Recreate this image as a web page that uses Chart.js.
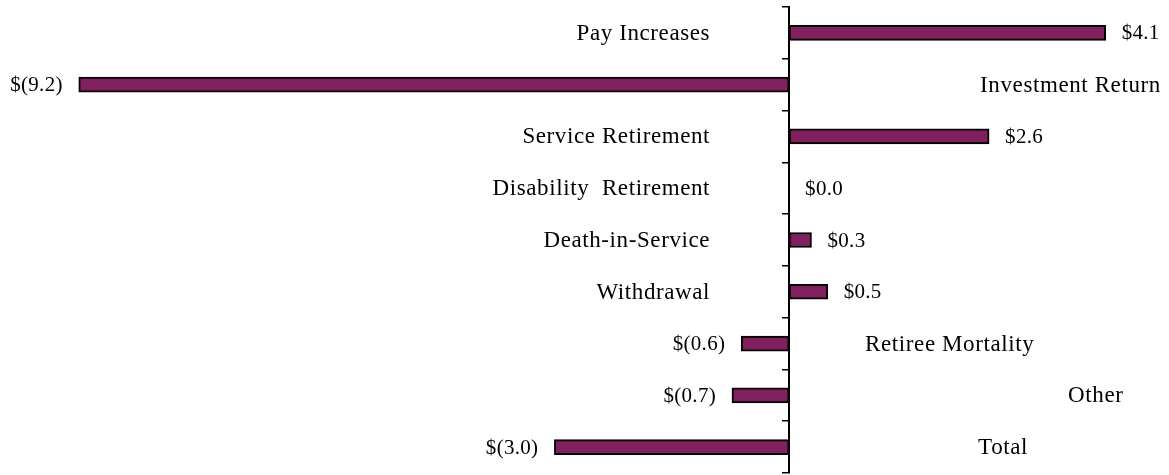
<!DOCTYPE html>
<html>
<head>
<meta charset="utf-8">
<script src="https://cdn.jsdelivr.net/npm/chart.js@4.4.1/dist/chart.umd.min.js"></script>
<style>
  html, body { margin: 0; padding: 0; background: #fff; }
  #wrap { width: 1169px; height: 475px; }
</style>
</head>
<body>
<div id="wrap"><canvas id="gainLoss"></canvas></div>
<script>
  // Sources of actuarial gain / (loss), $ millions
  const categories = [
    'Pay Increases', 'Investment Return', 'Service Retirement',
    'Disability  Retirement', 'Death-in-Service', 'Withdrawal',
    'Retiree Mortality', 'Other', 'Total'
  ];
  const amounts = [4.1, -9.2, 2.59, 0.0, 0.29, 0.5, -0.62, -0.74, -3.04];

  // where the category name sits for the negative bars (px right of the zero line)
  const negLabelOffset = { 'Investment Return': 191, 'Retiree Mortality': 76, 'Other': 279, 'Total': 189 };

  function money(v) {
    const s = Math.abs(v).toFixed(1);
    return v < 0 ? '$(' + s + ')' : '$' + s;
  }

  const barLabels = {
    id: 'barLabels',
    afterDatasetsDraw(chart) {
      const ctx = chart.ctx;
      const zero = chart.scales.x.getPixelForValue(0);
      const meta = chart.getDatasetMeta(0);
      ctx.save();
      ctx.fillStyle = '#000';
      ctx.textBaseline = 'middle';
      meta.data.forEach((bar, i) => {
        const v = amounts[i];
        const y = bar.y + 1;
        // value label
        ctx.letterSpacing = '0.3px';
        ctx.font = '21px "Liberation Serif", "Times New Roman", serif';
        if (v >= 0) {
          ctx.textAlign = 'left';
          ctx.fillText(money(v), bar.x + 16, y);
        } else {
          ctx.textAlign = 'right';
          ctx.fillText(money(v), bar.x - 16, y);
        }
        // category label on the other side of the axis
        ctx.letterSpacing = '0.6px';
        ctx.font = '23px "Liberation Serif", "Times New Roman", serif';
        if (v >= 0) {
          ctx.textAlign = 'right';
          ctx.fillText(categories[i], zero - 79, y);
        } else {
          ctx.textAlign = 'left';
          ctx.fillText(categories[i], zero + negLabelOffset[categories[i]], y);
        }
      });
      ctx.restore();
    }
  };

  new Chart(document.getElementById('gainLoss'), {
    type: 'bar',
    data: {
      labels: categories,
      datasets: [{
        data: amounts,
        backgroundColor: '#80205f',
        borderColor: '#000',
        borderWidth: 2,
        borderSkipped: false,
        barThickness: 15
      }]
    },
    options: {
      indexAxis: 'y',
      responsive: true,
      maintainAspectRatio: false,
      animation: false,
      layout: { padding: { top: 7, bottom: 2, left: 0, right: 0 } },
      plugins: { legend: { display: false }, tooltip: { enabled: false } },
      scales: {
        x: {
          display: false,
          min: -10.22,
          max: 4.92
        },
        y: {
          position: { x: 0 },
          ticks: { display: false },
          grid: {
            drawOnChartArea: false,
            drawTicks: true,
            tickLength: 6,
            color: '#000',
            lineWidth: 1.5
          },
          border: { display: true, color: '#000', width: 2 }
        }
      }
    },
    plugins: [barLabels]
  });
</script>
</body>
</html>
